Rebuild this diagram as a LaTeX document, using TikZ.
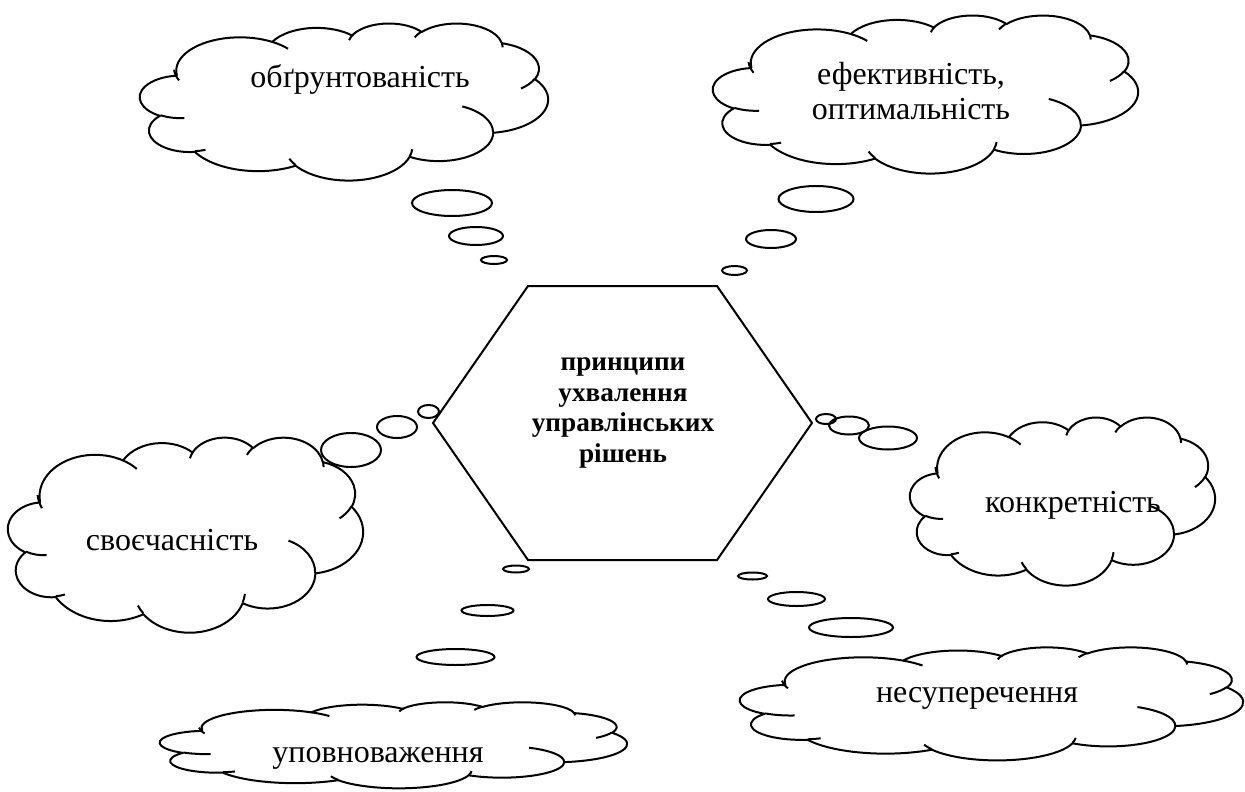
\documentclass[tikz,border=0pt]{standalone}
\usepackage{fontspec}
\setmainfont{Liberation Serif}
\tikzset{
  declare function={vis(\rw,\rh,\ang)=atan2((\rw)*sin(\ang),(\rh)*cos(\ang));},
  cloudline/.style={line width=2pt, line join=round},
  bubble/.style={draw, line width=2pt, ellipse, inner sep=0pt},
  cloudtext/.style={font=\fontsize{32}{35.4}\selectfont, inner sep=0pt},
  hextext/.style={font=\bfseries\fontsize{27.2}{30.4}\selectfont, inner sep=0pt, align=center}
}
\newcommand\carc[4]{arc[x radius=#1, y radius=#2, start angle={vis(#1,#2,#3)}, delta angle={vis(#1,#2,#3+#4)-vis(#1,#2,#3)+360*round((#4-vis(#1,#2,#3+#4)+vis(#1,#2,#3))/360)}]}
\newcommand\wcloud[4]{%
  \begin{scope}[shift={(#1,-#2)}, xscale=#3/43.2, yscale=-#4/43.2]
    \draw[cloudline] (3.9,14.37)
      \carc{6.753}{9.19}{-190.4875}{123.7805}
      \carc{5.333}{7.267}{-144.1024}{89.9452}
      \carc{4.365}{5.945}{-145.8079}{99.7230}
      \carc{4.857}{6.595}{-130.9861}{117.2417}
      \carc{5.333}{7.273}{-78.7089}{109.0269}
      \carc{6.775}{9.22}{-46.2673}{130.2690}
      \carc{5.785}{7.867}{0.6250}{114.0333}
      \carc{6.752}{9.215}{22.4516}{115.1726}
      \carc{7.72}{10.543}{66.2426}{75.7110}
      \carc{4.36}{5.918}{-274.9421}{146.7356}
      \carc{4.345}{5.945}{-246.8285}{152.5189}
      -- cycle;
    \draw[cloudline]
      (4.693,26.177) \carc{4.345}{5.945}{86.7420}{26.4295}
      (6.928,34.899) \carc{4.36}{5.918}{73.6105}{11.4475}
      (16.478,39.09) \carc{6.752}{9.215}{137.6242}{14.0811}
      (28.827,34.751) \carc{6.752}{9.215}{6.4533}{15.9984}
      (34.129,22.954) \carc{5.785}{7.867}{-70.2924}{70.9174}
      (41.798,15.354) \carc{5.333}{7.273}{30.3180}{27.7515}
      (38.324,5.426) \carc{4.857}{6.595}{-13.7443}{14.8589}
      (29.078,3.952) \carc{4.857}{6.595}{-149.1815}{18.1954}
      (22.141,4.72) \carc{4.365}{5.945}{-163.4943}{19.0138}
      (14.0,5.192) \carc{6.753}{9.19}{-66.7070}{16.8121}
      (4.127,15.789) \carc{6.753}{9.19}{150.0}{24.4411};
  \end{scope}}
\usetikzlibrary{shapes.geometric}
\begin{document}
\begin{tikzpicture}[x=1pt,y=1pt]
\useasboundingbox (0,0) rectangle (1245,-792);
% clouds
\wcloud{140}{23}{408}{157}
\wcloud{713}{15}{425}{158}
\wcloud{8}{437}{355}{195}
\wcloud{910}{417}{305}{168}
\wcloud{740}{647}{503}{113}
\wcloud{160}{702}{467}{86}
% texts
\node[cloudtext, anchor=base] (t1) at (360,-88) {обґрунтованість};
\node[cloudtext, align=center] (t2) at (911,-91) {ефективність,\\оптимальність};
\node[cloudtext, anchor=base] (t3) at (172,-550) {своєчасність};
\node[cloudtext, anchor=base] (t4) at (1073,-512) {конкретність};
\node[cloudtext, anchor=base] (t5) at (977,-702) {несуперечення};
\node[cloudtext, anchor=base] (t6) at (378,-762) {уповноваження};
% hexagon
\draw[line width=2pt, line join=miter]
  (433,-423) coordinate (h1) -- (528,-286) coordinate (h2) -- (717,-286) coordinate (h3)
  -- (812,-423) coordinate (h4) -- (717,-560) coordinate (h5) -- (528,-560) coordinate (h6) -- cycle;
\node[hextext] (hx) at (623,-413) {принципи\\ухвалення\\управлінських\\рішень};
% thought bubbles
\node[bubble, minimum width=80, minimum height=26] (a1) at (452,-203) {};
\node[bubble, minimum width=54, minimum height=18] (a2) at (476,-236) {};
\node[bubble, minimum width=26, minimum height=8] (a3) at (494,-260) {};
\node[bubble, minimum width=75, minimum height=26] (b1) at (816,-199) {};
\node[bubble, minimum width=50, minimum height=18] (b2) at (771,-239) {};
\node[bubble, minimum width=25, minimum height=9] (b3) at (734.5,-270.5) {};
\node[bubble, minimum width=60, minimum height=34] (c1) at (351,-450) {};
\node[bubble, minimum width=40, minimum height=22] (c2) at (397,-427) {};
\node[bubble, minimum width=21, minimum height=13] (c3) at (428.5,-411.5) {};
\node[bubble, minimum width=20, minimum height=10] (d1) at (826,-419) {};
\node[bubble, minimum width=40, minimum height=18] (d2) at (849,-425.5) {};
\node[bubble, minimum width=58, minimum height=23] (d3) at (888,-438) {};
\node[bubble, minimum width=26, minimum height=7] (e1) at (516,-569) {};
\node[bubble, minimum width=52, minimum height=11] (e2) at (487.5,-610.5) {};
\node[bubble, minimum width=78, minimum height=16] (e3) at (455.5,-657) {};
\node[bubble, minimum width=29, minimum height=7] (f1) at (752.5,-576) {};
\node[bubble, minimum width=57, minimum height=14] (f2) at (796.5,-599) {};
\node[bubble, minimum width=84, minimum height=19] (f3) at (851,-627.5) {};
\end{tikzpicture}
\end{document}
